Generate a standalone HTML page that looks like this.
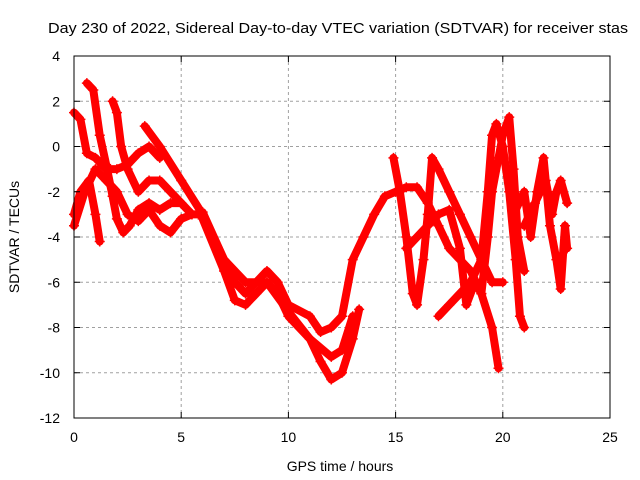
<!DOCTYPE html>
<html><head><meta charset="utf-8"><style>
body{margin:0;background:#fff;}
svg{display:block;font-family:"Liberation Sans",sans-serif;}
</style></head><body>
<svg id="chart" width="640" height="480" viewBox="0 0 640 480" xmlns="http://www.w3.org/2000/svg">
<rect width="640" height="480" fill="#fff"/>
<text x="48" y="33" font-size="15" textLength="580" lengthAdjust="spacingAndGlyphs" fill="#000">Day 230 of 2022, Sidereal Day-to-day VTEC variation (SDTVAR) for receiver stas</text>
<g id="grid"></g>
<g id="series"></g>
<rect x="74" y="56" width="536" height="362" fill="none" stroke="#000" stroke-width="1"/>
<g id="ticks"></g>
<text x="340" y="471" font-size="14" text-anchor="middle">GPS time / hours</text>
<text transform="translate(19,237) rotate(-90)" font-size="14" text-anchor="middle">SDTVAR / TECUs</text>
</svg>
<script>
const xTicks=[0,5,10,15,20,25];
const yTicks=[4,2,0,-2,-4,-6,-8,-10,-12];
const trackE1=[[0,1.5],[0.3,1.2],[0.6,-0.3],[1,-0.5],[1.5,-1],[2,-1],[2.5,-0.8],[3,-0.3],[3.5,0],[4,-0.5]];
const trackE2=[[0.6,2.8],[0.9,2.5],[1.2,0.5],[1.5,-0.8],[1.8,-2.2],[2,-3.2],[2.3,-3.8],[2.6,-3.5],[3,-2.8],[3.5,-2.5],[4,-2.8],[4.5,-2.5],[5,-2.5]];
const trackE3=[[1.8,2],[2,1.5],[2.2,0],[2.5,-1],[3,-2],[3.5,-1.5],[4,-1.5],[4.5,-2],[5,-2.5],[5.5,-3],[6,-3]];
const trackE4=[[0,-3.5],[0.5,-2],[1,-1],[1.5,-1.5],[2,-2],[2.5,-3],[3,-3.3],[3.5,-2.8],[4,-3.5],[4.5,-3.8],[5,-3.2],[5.5,-3]];
const trackE5=[[0,-3],[0.3,-2],[0.7,-1.5],[1,-3],[1.2,-4.2]];
const trackM1=[[3.3,0.9],[4,0],[5,-1.5],[6,-3],[7,-5],[7.5,-6],[8,-6.5],[8.5,-6],[9,-5.5],[9.5,-6],[10,-7],[11,-7.5],[11.5,-8.2],[12,-8],[12.5,-7.5],[13,-5],[13.5,-4],[14,-3],[14.5,-2.2],[15,-2],[15.5,-1.8],[16,-1.8],[16.5,-2.5],[17,-3.5],[17.5,-4.5],[18,-5],[18.5,-5.5],[19,-6.5],[19.5,-8],[19.8,-9.8]];
const trackM2=[[6,-3.2],[7,-5.5],[7.5,-6.8],[8,-7],[8.5,-6.5],[9,-6],[9.5,-6.5],[10,-7.5],[11,-8.5],[11.5,-9.5],[12,-10.3],[12.5,-10],[13,-8.5],[13.3,-7.2]];
const trackM3=[[6,-2.9],[7,-5],[8,-6],[9,-6],[10,-7.3],[11,-8.5],[12,-9.3],[12.5,-9],[13,-7.5]];
const trackL1=[[14.9,-0.5],[15.2,-2],[15.5,-4],[15.8,-6.5],[16,-7],[16.3,-5],[16.5,-3],[16.7,-0.5],[17,-1],[17.5,-2],[18,-3],[18.5,-4],[19,-5],[19.5,-6],[20,-6]];
const trackL2=[[15.5,-4.5],[16,-4],[16.5,-3.5],[17,-3],[17.5,-2.8],[18,-4.5],[18.3,-7],[18.7,-6],[19,-6.5],[19.3,-4],[19.5,-2],[19.8,-0.5],[20,0.5],[20.3,1.3],[20.5,-1],[20.7,-4],[21,-5.5]];
const trackL3=[[17,-7.5],[17.5,-7],[18,-6.5],[18.5,-6],[19,-5],[19.3,-2],[19.5,0.5],[19.7,1],[20,0],[20.3,-2],[20.6,-5],[20.8,-7.5],[21,-8]];
const trackL4=[[20.5,-3],[21,-2],[21.3,-4],[21.6,-2],[21.9,-0.5],[22.2,-3.5],[22.5,-5],[22.7,-6.3],[22.9,-3.5],[23,-4.5]];
const trackL5=[[21,-3.5],[21.5,-2.5],[22,-1.5],[22.3,-3],[22.5,-2],[22.7,-1.5],[23,-2.5]];
const tracks=[trackE1,trackE2,trackE3,trackE4,trackE5,trackM1,trackM2,trackM3,trackL1,trackL2,trackL3,trackL4,trackL5];

const NS='http://www.w3.org/2000/svg';
const X0=74,X1=610,Y0=418,Y1=56;
function xs(v){return X0+(v-0)/(25-0)*(X1-X0);}
function ys(v){return Y0-(v-(-12))/(4-(-12))*(Y0-Y1);}
function mk(t,a){const e=document.createElementNS(NS,t);for(const k in a)e.setAttribute(k,a[k]);return e;}
const grid=document.getElementById('grid'),ticks=document.getElementById('ticks'),series=document.getElementById('series');
xTicks.forEach(v=>{
  const x=xs(v);
  if(v>0&&v<25){const g=mk('line',{x1:x,x2:x,y1:Y1,y2:Y0,stroke:'#a0a0a0','stroke-dasharray':'3,3'});
  
  grid.appendChild(g);}
  ticks.appendChild(mk('line',{x1:x,x2:x,y1:Y0,y2:Y0-6,stroke:'#000'}));
  ticks.appendChild(mk('line',{x1:x,x2:x,y1:Y1,y2:Y1+6,stroke:'#000'}));
  const t=mk('text',{x:x,y:Y0+24,'font-size':14,'text-anchor':'middle'});t.textContent=v;
  
  ticks.appendChild(t);
});
yTicks.forEach(v=>{
  const y=ys(v);
  if(v>-12&&v<4){const g=mk('line',{x1:X0,x2:X1,y1:y,y2:y,stroke:'#a0a0a0','stroke-dasharray':'3,3'});
  
  grid.appendChild(g);}
  ticks.appendChild(mk('line',{x1:X0,x2:X0+6,y1:y,y2:y,stroke:'#000'}));
  ticks.appendChild(mk('line',{x1:X1,x2:X1-6,y1:y,y2:y,stroke:'#000'}));
  const t=mk('text',{x:X0-14,y:y+5,'font-size':14,'text-anchor':'end'});t.textContent=v;
  
  ticks.appendChild(t);
});
tracks.forEach(tr=>{
  const pl=mk('polyline',{points:tr.map(p=>xs(p[0])+','+ys(p[1])).join(' '),fill:'none',stroke:'#ff0000','stroke-width':8,'stroke-linejoin':'round','stroke-linecap':'round'});
  
  
  series.appendChild(pl);
  tr.forEach(p=>{
    const x=xs(p[0]),y=ys(p[1]);
    const m=mk('path',{d:`M${x-5},${y}H${x+5}M${x},${y-5}V${y+5}`,stroke:'#ff0000','stroke-width':1.5});
    
    
    series.appendChild(m);
  });
});
</script>
</body></html>
